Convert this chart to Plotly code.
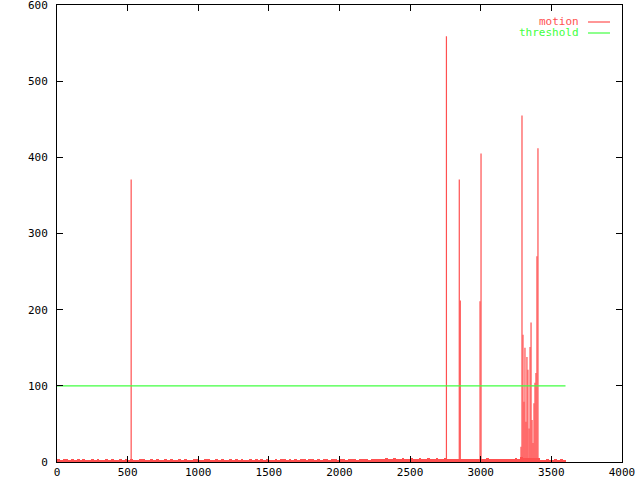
import plotly.graph_objects as go

# ---- data ----
threshold_value = 100
threshold_x = [0, 3600]

baseline_step = 20
baseline_values = [
    3.5, 2.5, 3.5, 4, 2.5, 3.5, 3, 4, 2.5, 3.5, 3, 2.5, 4, 3, 3.5, 2.5, 3, 4, 2.5, 3.5,
    3, 2.5, 3.5, 3, 4, 2.5, 3.5, 3, 2.5, 3.5, 4, 3, 2.5, 3.5, 3, 4, 2.5, 3, 3.5, 2.5,
    3.5, 3, 2.5, 4, 3, 3.5, 2.5, 3, 4, 3.5, 2.5, 3, 3.5, 4, 2.5, 3, 3.5, 2.5, 4, 3,
    3, 3.5, 2.5, 4, 3, 3.5, 3, 2.5, 4, 3, 3.5, 2.5, 3.5, 3, 4, 3, 2.5, 3.5, 3, 4,
    3.5, 3, 4, 2.5, 3.5, 3, 4, 3.5, 3, 4, 3.5, 2.5, 4, 3, 3.5, 4, 3, 3.5, 4, 3,
    4, 3.5, 3, 4, 3.5, 4, 3, 4.5, 3.5, 4, 3, 4.5, 3.5, 4, 4.5, 3.5, 5, 4, 4.5, 5.5,
    4.5, 4, 5, 4, 4.5, 5, 4, 4.5, 5, 4, 4.5, 5.5, 4, 4.5, 5, 4, 4.5, 5, 4, 4.5,
    4, 4.5, 4, 3.5, 4, 4.5, 3.5, 4, 4.5, 4, 3.5, 4, 5, 4, 4.5, 4, 3.5, 4, 4.5, 4,
    4, 4.5, 5, 4.5, 6, 5, 5, 5, 5, 5, 5, 3, 2.5, 3.5, 3, 2.5, 3.5, 3, 3.5, 2.5,
]

spike_x = [525, 2757, 2848, 2855, 2995, 3002,
           3285, 3292, 3299, 3306, 3313, 3320, 3327, 3334, 3342, 3349,
           3356, 3363, 3370, 3377, 3384, 3391, 3398, 3405]
spike_y = [371, 559, 371, 212, 211, 405,
           20, 455, 167, 79, 150, 53, 138, 121, 44, 151,
           183, 55, 25, 77, 104, 117, 270, 412]

RED = "#ff5050"
GREEN = "#40ff40"
FONT = "DejaVu Sans Mono"

fig = go.Figure()

# baseline noise as filled bars
bx = [i * baseline_step + baseline_step / 2 for i in range(len(baseline_values))]
fig.add_trace(go.Bar(x=bx, y=baseline_values, width=baseline_step,
                     marker=dict(color=RED, line=dict(width=0)),
                     showlegend=False, hoverinfo="skip"))

# spikes drawn as impulses
ix, iy = [], []
for xv, yv in zip(spike_x, spike_y):
    ix += [xv, xv, None]
    iy += [0, yv, None]
fig.add_trace(go.Scatter(x=ix, y=iy, mode="lines",
                         line=dict(color=RED, width=1.2),
                         showlegend=False, hoverinfo="skip"))

# threshold
fig.add_trace(go.Scatter(x=threshold_x, y=[threshold_value] * len(threshold_x),
                         mode="lines", line=dict(color=GREEN, width=1.2),
                         showlegend=False))

# gnuplot-style legend (right aligned text with sample line)
legend_items = [("motion", RED, 22), ("threshold", GREEN, 33)]
for name, col, ypx in legend_items:
    yp = 1 - (ypx - 5) / 457
    fig.add_annotation(x=(581 - 57) / 565, y=yp, xref="paper", yref="paper",
                       text=name, showarrow=False, xanchor="right", yanchor="middle",
                       font=dict(family=FONT, size=11, color=col))
    fig.add_shape(type="line", xref="paper", yref="paper",
                  x0=(588 - 57) / 565, x1=(610 - 57) / 565, y0=yp, y1=yp,
                  line=dict(color=col, width=1.2))

axis_common = dict(showgrid=False, zeroline=False, showline=True, linecolor="black",
                   linewidth=1, mirror="ticks", ticks="inside", ticklen=6,
                   tickcolor="black", automargin=False, ticklabeloverflow="allow",
                   tickfont=dict(family=FONT, size=11, color="black"))

fig.update_xaxes(range=[0, 4000], tick0=0, dtick=500, **axis_common)
fig.update_yaxes(range=[0, 600], tick0=0, dtick=100, ticklabelstandoff=6, **axis_common)

fig.update_layout(width=640, height=480, plot_bgcolor="white", paper_bgcolor="white",
                  margin=dict(l=57, r=18, t=5, b=18), bargap=0, showlegend=False)

fig.write_html("out.html", config={"displayModeBar": False},
               post_script="document.body.style.margin='0';document.body.style.overflow='hidden';")
